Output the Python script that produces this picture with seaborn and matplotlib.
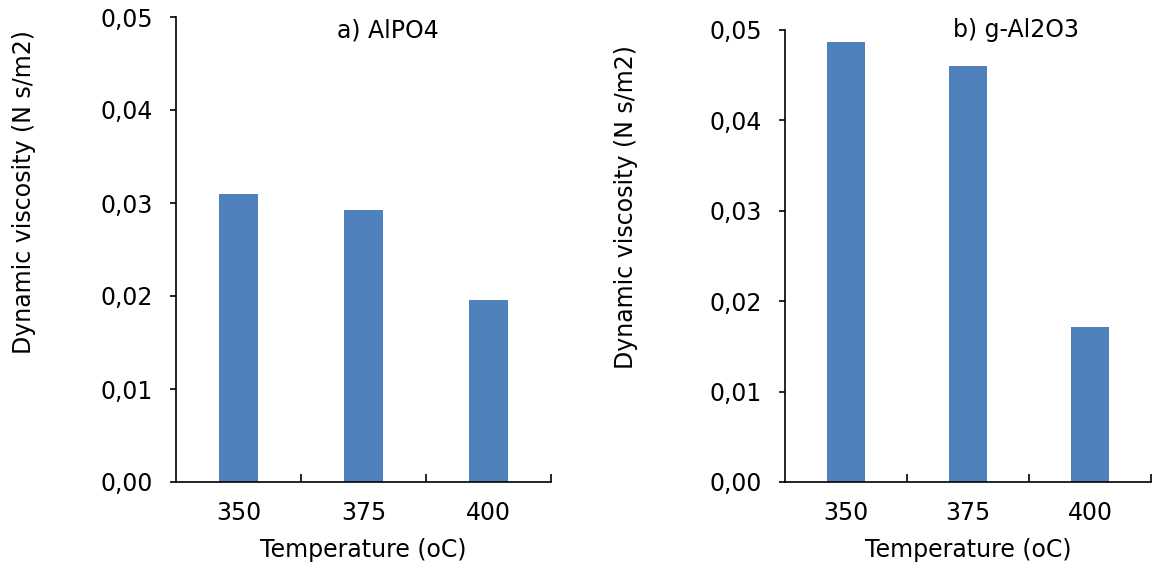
import matplotlib
matplotlib.use("Agg")
import matplotlib.pyplot as plt
import matplotlib.ticker as mticker
import seaborn as sns
import pandas as pd

temperatures = ["350", "375", "400"]
visc_alpo4 = [0.0310, 0.0292, 0.0196]
visc_al2o3 = [0.0487, 0.0460, 0.0172]
titles = ["a) AlPO4", "b) g-Al2O3"]
y_ticks = [0.00, 0.01, 0.02, 0.03, 0.04, 0.05]

sns.set_style("white")
plt.rcParams["font.family"] = ["DejaVu Sans"]
plt.rcParams["text.color"] = "black"
plt.rcParams["axes.labelcolor"] = "black"
plt.rcParams["xtick.color"] = "black"
plt.rcParams["ytick.color"] = "black"

BAR_COLOR = "#4F81BD"
FS = 17
fig = plt.figure(figsize=(11.52, 5.69), dpi=100)

axes_rects = [
    [176 / 1152, 1 - 482 / 569, 375 / 1152, 465 / 569],
    [785 / 1152, 1 - 482 / 569, 366 / 1152, 452 / 569],
]
title_pos = [(0.565, 0.972), (0.63, 1.0)]
ylabel_x = [24 / 1152, 626 / 1152]
ylabel_y = [1 - 192 / 569, 1 - 207 / 569]

for i, vals in enumerate([visc_alpo4, visc_al2o3]):
    ax = fig.add_axes(axes_rects[i])
    df = pd.DataFrame({"Temperature": temperatures, "Viscosity": vals})
    sns.barplot(data=df, x="Temperature", y="Viscosity", color=BAR_COLOR,
                width=0.31, saturation=1, linewidth=0, ax=ax)
    ax.set_xlim(-0.5, 2.5)
    ax.set_ylim(0, 0.05)
    ax.set_yticks(y_ticks)
    ax.yaxis.set_major_formatter(
        mticker.FuncFormatter(lambda v, p: f"{v:.2f}".replace(".", ",")))
    ax.set_xticks(range(3))
    ax.set_xticklabels(temperatures)
    ax.xaxis.set_minor_locator(mticker.FixedLocator([0.5, 1.5, 2.5]))
    ax.tick_params(axis="x", which="major", length=0, pad=14, labelsize=FS)
    ax.tick_params(axis="x", which="minor", direction="in", length=6,
                   width=1.2, color="black", bottom=True)
    ax.tick_params(axis="y", which="major", direction="out", length=4.5,
                   width=1.2, color="black", left=True, pad=12, labelsize=FS)
    for s in ["top", "right"]:
        ax.spines[s].set_visible(False)
    for s in ["left", "bottom"]:
        ax.spines[s].set_color("black")
        ax.spines[s].set_linewidth(1.2)
    ax.set_ylabel("")
    ax.set_xlabel("Temperature (oC)", fontsize=FS, labelpad=9)
    ax.text(title_pos[i][0], title_pos[i][1], titles[i], transform=ax.transAxes,
            ha="center", va="center", fontsize=FS)
    fig.text(ylabel_x[i], ylabel_y[i], "Dynamic viscosity (N s/m2)",
             rotation=90, ha="center", va="center", fontsize=FS)

fig.savefig("out.png", dpi=100)
